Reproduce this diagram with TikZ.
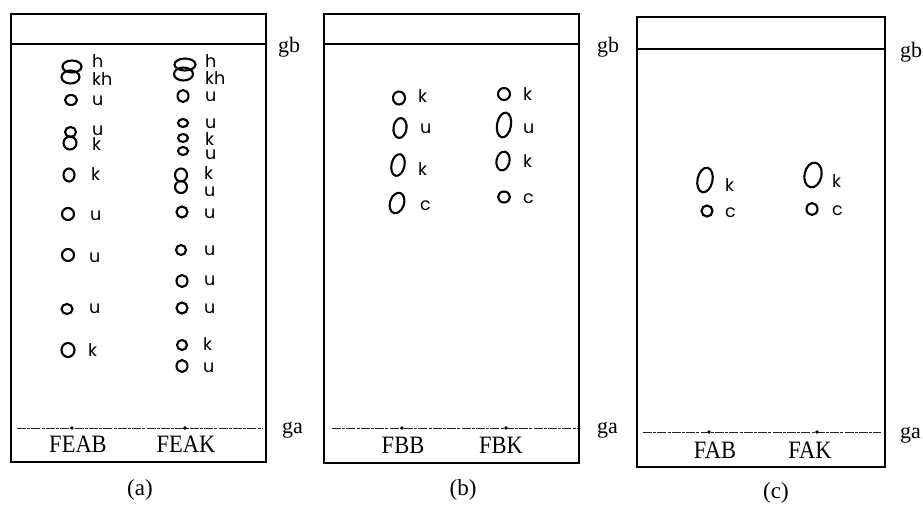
\documentclass[tikz,border=0pt]{standalone}
\usepackage{fontspec}
\setmainfont{Liberation Serif}
\newfontfamily\lsans{Poppins}
\usetikzlibrary{shapes.geometric}
\begin{document}
\begin{tikzpicture}[x=1pt,y=-1pt,
  frame/.style={line width=1.4pt},
  front/.style={line width=1pt,draw=black!85,dash pattern=on 9pt off 1.2pt on 3pt off 1.2pt},
  origin/.style={circle,fill=black,inner sep=0pt,minimum size=3.6pt},
  spot/.style 2 args={ellipse,draw,line width=2.1pt,minimum width=#1pt,minimum height=#2pt,inner sep=0pt,outer sep=0pt},
  lbl/.style={anchor=base west,inner sep=0pt,font=\lsans\fontsize{17.5}{17.5}\selectfont},
  sample/.style={anchor=base,inner sep=0pt,xscale=0.9,font=\fontsize{25}{25}\selectfont},
  side/.style={anchor=base west,inner sep=0pt,font=\fontsize{22}{22}\selectfont},
  panelcap/.style={anchor=center,inner sep=0pt,font=\fontsize{23}{23}\selectfont}]
\useasboundingbox (0,0) rectangle (923,504);

% ---------------- panel (a) ----------------
\draw[frame] (11,14) rectangle (266,462);
\draw[frame] (11,44) -- (266,44);
\draw[front] (17,428) -- (262,428);
\node[origin] (oa1) at (72,428) {};
\node[origin] (oa2) at (185,428) {};
\node[sample] (sa1) at (78,452) {FEAB};
\node[sample] (sa2) at (186,452) {FEAK};
\node[side] (gba) at (278,52) {gb};
\node[side] (gaa) at (282,433) {ga};
\node[panelcap] (capa) at (140,490) {(a)};
% column 1
\node[spot={19}{12}] (a1t) at (72,66.5) {};
\node[spot={18}{13}] (a1b) at (70.5,77) {};
\node[lbl] (la1h) at (92,67) {h};
\node[lbl] (la1kh) at (92,85) {kh};
\node[spot={12}{10}] (a2) at (71,100) {};
\node[lbl] (la2) at (92,105) {u};
\node[spot={11}{10}] (a3t) at (70.5,132) {};
\node[spot={13}{13}] (a3b) at (70,143) {};
\node[lbl] (la3u) at (92,135) {u};
\node[lbl] (la3k) at (92,150) {k};
\node[spot={11}{13}] (a4) at (69,175) {};
\node[lbl] (la4) at (91,180) {k};
\node[spot={12}{12}] (a5) at (68,214) {};
\node[lbl] (la5) at (90,220) {u};
\node[spot={12}{12}] (a6) at (68,255) {};
\node[lbl] (la6) at (89,262) {u};
\node[spot={11}{10}] (a7) at (67,309) {};
\node[lbl] (la7) at (89,313) {u};
\node[spot={13}{14}] (a8) at (68,350) {};
\node[lbl] (la8) at (88,356) {k};
% column 2
\node[spot={21}{12}] (b1t) at (185,64.5) {};
\node[spot={19}{13}] (b1b) at (183.5,74) {};
\node[lbl] (lb1h) at (205,67) {h};
\node[lbl] (lb1kh) at (205,84) {kh};
\node[spot={11}{12}] (b2) at (183,96) {};
\node[lbl] (lb2) at (205,101) {u};
\node[spot={10}{8}] (b3) at (183,123) {};
\node[lbl] (lb3) at (205,128) {u};
\node[spot={10}{8}] (b4) at (183,138) {};
\node[lbl] (lb4) at (205,145) {k};
\node[spot={10}{8}] (b5) at (183,151) {};
\node[lbl] (lb5) at (205,159) {u};
\node[spot={12}{13}] (b6t) at (181,175) {};
\node[spot={12}{12}] (b6b) at (181,187) {};
\node[lbl] (lb6k) at (204,179) {k};
\node[lbl] (lb6u) at (204,196) {u};
\node[spot={11}{11}] (b7) at (182,212) {};
\node[lbl] (lb7) at (204,218) {u};
\node[spot={10}{10}] (b8) at (181,250) {};
\node[lbl] (lb8) at (204,255) {u};
\node[spot={11}{12}] (b9) at (182,281) {};
\node[lbl] (lb9) at (204,285) {u};
\node[spot={11}{11}] (b10) at (182,308) {};
\node[lbl] (lb10) at (204,313) {u};
\node[spot={10}{10}] (b11) at (182,345) {};
\node[lbl] (lb11) at (203,350) {k};
\node[spot={11}{12}] (b12) at (182,366) {};
\node[lbl] (lb12) at (203,372) {u};

% ---------------- panel (b) ----------------
\draw[frame] (324,14) rectangle (579,463);
\draw[frame] (324,44) -- (579,44);
\draw[front] (332,428) -- (577,428);
\node[origin] (ob1) at (402,428) {};
\node[origin] (ob2) at (506,428) {};
\node[sample] (sb1) at (403,453) {FBB};
\node[sample] (sb2) at (501,453) {FBK};
\node[side] (gbb) at (597,52) {gb};
\node[side] (gab) at (597,433) {ga};
\node[panelcap] (capb) at (463,490) {(b)};
% column 1
\node[spot={12}{13}] (c1) at (399,98) {};
\node[lbl] (lc1) at (418,102) {k};
\node[spot={13}{20},rotate=-8] (c2) at (400,128) {};
\node[lbl] (lc2) at (420,133) {u};
\node[spot={13}{22},rotate=-12] (c3) at (398,165) {};
\node[lbl] (lc3) at (418,175) {k};
\node[spot={14}{21},rotate=-18] (c4) at (397,203) {};
\node[lbl] (lc4) at (420,210) {c};
% column 2
\node[spot={12}{12}] (d1) at (504,94) {};
\node[lbl] (ld1) at (523,100) {k};
\node[spot={14}{25},rotate=-10] (d2) at (504,125) {};
\node[lbl] (ld2) at (523,133) {u};
\node[spot={13}{19},rotate=-12] (d3) at (503,161) {};
\node[lbl] (ld3) at (523,167) {k};
\node[spot={12}{11}] (d4) at (504,197) {};
\node[lbl] (ld4) at (523,203) {c};

% ---------------- panel (c) ----------------
\draw[frame] (637,17) rectangle (885,467);
\draw[frame] (637,49) -- (885,49);
\draw[front] (643,432) -- (881,432);
\node[origin] (oc1) at (709,432) {};
\node[origin] (oc2) at (817,432) {};
\node[sample] (sc1) at (715,458) {FAB};
\node[sample] (sc2) at (810,458) {FAK};
\node[side] (gbc) at (900,57) {gb};
\node[side] (gac) at (900,438) {ga};
\node[panelcap] (capc) at (776,493) {(c)};
\node[spot={15}{25},rotate=-12] (e1) at (705,180) {};
\node[lbl] (le1) at (725,191) {k};
\node[spot={11}{11}] (e2) at (707,211) {};
\node[lbl] (le2) at (725,217) {c};
\node[spot={17}{25},rotate=-12] (f1) at (813,175) {};
\node[lbl] (lf1) at (832,187) {k};
\node[spot={11}{12}] (f2) at (812,209) {};
\node[lbl] (lf2) at (832,215) {c};
\end{tikzpicture}
\end{document}
